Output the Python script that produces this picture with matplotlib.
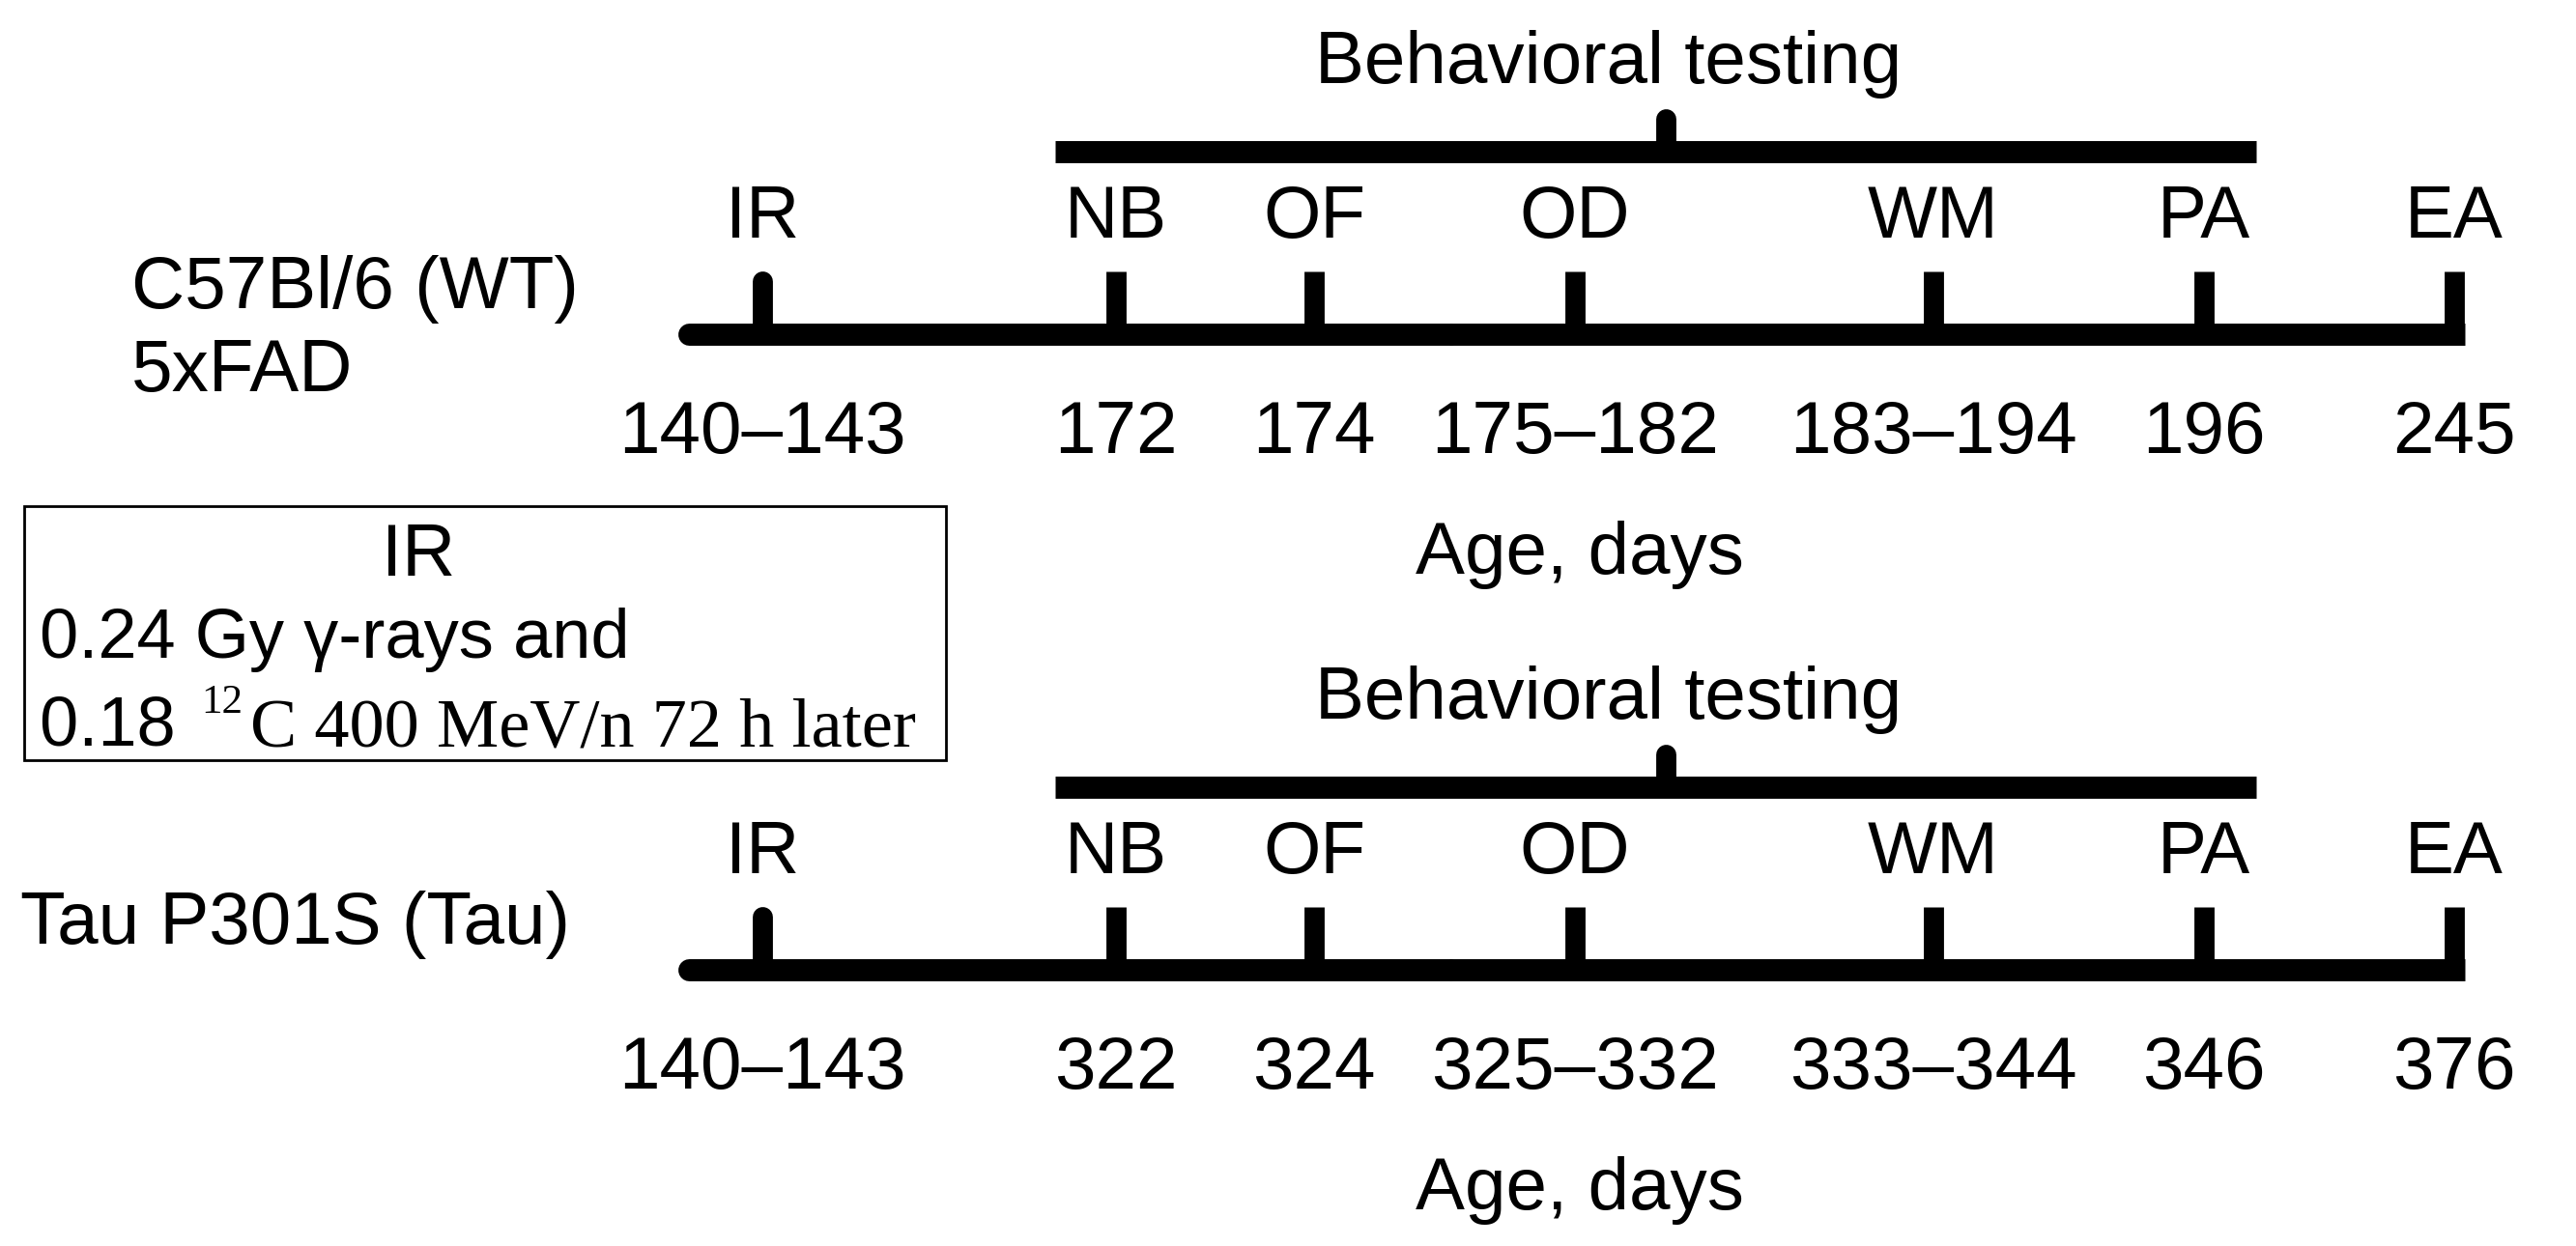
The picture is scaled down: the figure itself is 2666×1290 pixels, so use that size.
import matplotlib.pyplot as plt
from matplotlib.patches import Rectangle

# timeline content
events = ['IR', 'NB', 'OF', 'OD', 'WM', 'PA', 'EA']
ages_wt = ['140–143', '172', '174', '175–182', '183–194', '196', '245']
ages_tau = ['140–143', '322', '324', '325–332', '333–344', '346', '376']
strain_wt = ['C57Bl/6 (WT)', '5xFAD']
strain_tau = ['Tau P301S (Tau)']
ir_title = 'IR'
ir_line1 = '0.24 Gy γ-rays and'
ir_line2 = ['0.18 ', '12', 'C 400 MeV/n 72 h later']

# layout, in pixels of the 2666 x 1290 canvas
event_x = [789, 1155, 1360, 1630, 2001, 2281, 2540]
panels = [
    (strain_wt, ages_wt, 0, 136),
    (strain_tau, ages_tau, 658, 21),
]

plt.rcParams['font.family'] = ['Liberation Sans', 'DejaVu Sans']
fig = plt.figure(figsize=(26.66, 12.9), dpi=100)
ax = fig.add_axes([0, 0, 1, 1])
ax.set_xlim(0, 2666)
ax.set_ylim(1290, 0)
ax.axis('off')

fs = 55
lw = 16.5
tick_lw = 15

for strain, ages, dy, label_x in panels:
    # behavioral testing bracket
    ax.text(1665, 86 + dy, 'Behavioral testing', ha='center', va='baseline', fontsize=fs)
    ax.plot([1092, 2335], [157 + dy] * 2, color='black', lw=lw, solid_capstyle='butt')
    ax.plot([1724, 1724], [157 + dy, 123 + dy], color='black', lw=tick_lw, solid_capstyle='round')

    # main time line (round on the left, square on the right)
    ax.plot([713, 1500], [346 + dy] * 2, color='black', lw=lw, solid_capstyle='round')
    ax.plot([1500, 2551], [346 + dy] * 2, color='black', lw=lw, solid_capstyle='butt')

    for i, (x, ev, age) in enumerate(zip(event_x, events, ages)):
        if i == 0:
            ax.plot([x, x], [346 + dy, 291 + dy], color='black', lw=tick_lw, solid_capstyle='round')
        else:
            ax.plot([x, x], [346 + dy, 281 + dy], color='black', lw=tick_lw, solid_capstyle='butt')
        ax.text(x, 246 + dy, ev, ha='center', va='baseline', fontsize=fs)
        ax.text(x, 469 + dy, age, ha='center', va='baseline', fontsize=fs)

    ax.text(1635, 594 + dy, 'Age, days', ha='center', va='baseline', fontsize=fs)

    # strain name on the left
    for j, s in enumerate(strain):
        ax.text(label_x, 319 + dy + j * 86, s, ha='left', va='baseline', fontsize=fs)

# irradiation box
serif = ['Liberation Serif', 'DejaVu Serif']
ax.add_patch(Rectangle((25, 524), 954, 263, fill=False, edgecolor='black', lw=2))
ax.text(433, 596, ir_title, ha='center', va='baseline', fontsize=fs)
ax.text(41, 681, ir_line1, ha='left', va='baseline', fontsize=52)
ax.text(41, 772, ir_line2[0], ha='left', va='baseline', fontsize=52)
ax.text(208, 738, ir_line2[1], ha='left', va='baseline', fontsize=31, family=serif)
ax.text(259, 772, ir_line2[2], ha='left', va='baseline', fontsize=52, family=serif)

fig.savefig('out.png', dpi=100, facecolor='white')
